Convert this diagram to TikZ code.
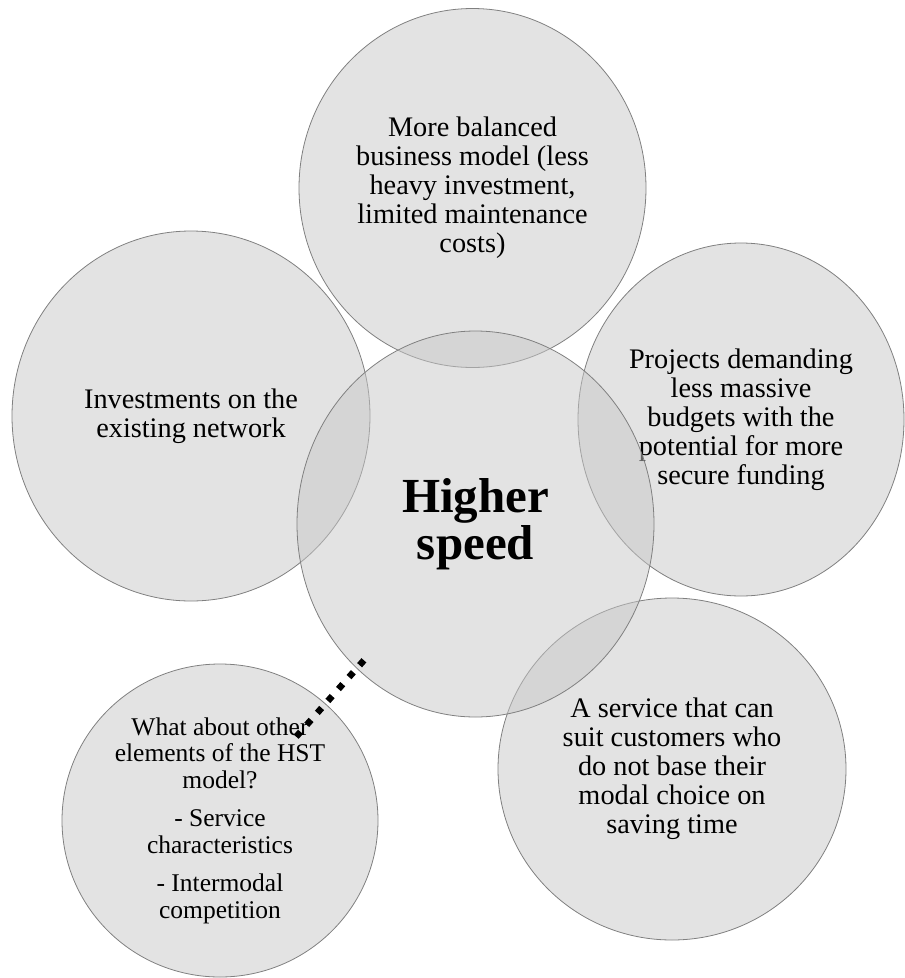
\documentclass[tikz,border=0pt]{standalone}
\usepackage{fontspec}
\setmainfont{Liberation Serif}
\usetikzlibrary{shapes.geometric}
\definecolor{bubblefill}{gray}{0.78}
\definecolor{bubbleline}{gray}{0.5}
\begin{document}
\begin{tikzpicture}[x=1pt,y=-1pt,
  bubble/.style={ellipse, draw=bubbleline, line width=0.8pt, fill=bubblefill,
    fill opacity=0.5, text opacity=1, draw opacity=1, inner sep=0pt, align=center,
    font=\fontsize{28.3pt}{29pt}\selectfont},
  smallbubble/.style={bubble, font=\fontsize{25.5pt}{26.5pt}\selectfont},
  hubtext/.style={font=\fontsize{49pt}{47pt}\selectfont\bfseries},
  dotline/.style={line width=6.5pt, dash pattern=on 6.5pt off 9.43pt, black}]
\useasboundingbox (0,0) rectangle (905,978);
\node[bubble, minimum width=347pt, minimum height=359pt] (top) at (472.5,188)
  {More balanced\\business model (less\\heavy investment,\\limited maintenance\\costs)};
\node[bubble, minimum width=358pt, minimum height=370pt] (left) at (191,416)
  {Investments on the\\existing network};
\node[bubble, minimum width=326pt, minimum height=353pt] (right) at (741,419.5)
  {Projects demanding\\less massive\\budgets with the\\potential for more\\secure funding};
\node[bubble, minimum width=348pt, minimum height=342pt] (botright) at (672,769)
  {A service that can\\suit customers who\\do not base their\\modal choice on\\saving time};
\node[smallbubble, minimum width=316pt, minimum height=313pt] (botleft) at (220,820.5)
  {What about other\\elements of the HST\\model?\\[12pt]- Service\\characteristics\\[12pt]- Intermodal\\competition};
\node[bubble, hubtext, minimum width=357pt, minimum height=386pt] (hub) at (475.5,524)
  {Higher\\speed};
\coordinate (dotA) at (363.9,660.3);
\coordinate (dotB) at (296.2,736.7);
\draw[dotline] (dotA) -- (dotB);
\end{tikzpicture}
\end{document}
